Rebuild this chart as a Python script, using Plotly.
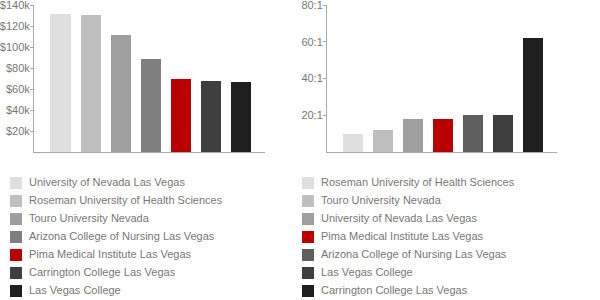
import plotly.graph_objects as go

# Left chart: salary
sal_names = ["University of Nevada Las Vegas", "Roseman University of Health Sciences",
             "Touro University Nevada", "Arizona College of Nursing Las Vegas",
             "Pima Medical Institute Las Vegas", "Carrington College Las Vegas",
             "Las Vegas College"]
sal_values = [131000, 130500, 111500, 88500, 69500, 67800, 66800]
sal_colors = ["#dfdfdf", "#bfbfbf", "#9f9f9f", "#7f7f7f", "#bb0000", "#3f3f3f", "#1f1f1f"]
sal_ticks = [20000, 40000, 60000, 80000, 100000, 120000, 140000]
sal_ticktext = ["$20k", "$40k", "$60k", "$80k", "$100k", "$120k", "$140k"]

# Right chart: student-to-faculty ratio
rat_names = ["Roseman University of Health Sciences", "Touro University Nevada",
             "University of Nevada Las Vegas", "Pima Medical Institute Las Vegas",
             "Arizona College of Nursing Las Vegas", "Las Vegas College",
             "Carrington College Las Vegas"]
rat_values = [10, 12, 18, 18, 20, 20, 62]
rat_colors = ["#dfdfdf", "#bfbfbf", "#9f9f9f", "#bb0000", "#5f5f5f", "#3f3f3f", "#1f1f1f"]
rat_ticks = [20, 40, 60, 80]
rat_ticktext = ["20:1", "40:1", "60:1", "80:1"]

W, H = 600, 300
FONT = "Liberation Sans, Arial, sans-serif"
TXT = "#777777"
AX = "#aaaaaa"

fig = go.Figure()
idx = list(range(7))
fig.add_trace(go.Bar(x=idx, y=sal_values, marker=dict(color=sal_colors, line=dict(width=0)),
                     width=0.667, xaxis="x", yaxis="y", showlegend=False, hoverinfo="skip"))
fig.add_trace(go.Bar(x=idx, y=rat_values, marker=dict(color=rat_colors, line=dict(width=0)),
                     width=0.667, xaxis="x2", yaxis="y2", showlegend=False, hoverinfo="skip"))

# custom legends on a pixel-unit overlay axis
leg_y = [183 + 18 * i for i in idx]
for names, colors, mx in [(sal_names, sal_colors, 16), (rat_names, rat_colors, 308)]:
    fig.add_trace(go.Scatter(x=[mx] * 7, y=leg_y, mode="markers",
                             marker=dict(symbol="square", size=12, color=colors, line=dict(width=0)),
                             xaxis="x3", yaxis="y3", showlegend=False, hoverinfo="skip"))
    fig.add_trace(go.Scatter(x=[mx + 13] * 7, y=leg_y, mode="text", text=names,
                             textposition="middle right",
                             textfont=dict(family=FONT, size=11, color=TXT),
                             xaxis="x3", yaxis="y3", showlegend=False, hoverinfo="skip"))

def xax(d0, d1):
    return dict(domain=[d0 / W, d1 / W], range=[-0.88, 6.8], showgrid=False, zeroline=False,
                showticklabels=False, ticks="", showline=True, linecolor=AX, linewidth=1,
                fixedrange=True, automargin=False)

def yax(anchor, rng, tv, tt):
    return dict(domain=[1 - 152 / H, 1 - 5 / H], range=rng, tickvals=tv, ticktext=tt,
                showgrid=False, zeroline=False, showline=True, linecolor=AX, linewidth=1,
                ticks="outside", ticklen=3, tickcolor=AX, anchor=anchor,
                ticklabeloverflow="allow", automargin=False, ticklabelstandoff=-2,
                tickfont=dict(family=FONT, size=11, color=TXT), fixedrange=True)

fig.update_layout(
    width=W, height=H, margin=dict(l=0, r=0, t=0, b=0, autoexpand=False),
    paper_bgcolor="white", plot_bgcolor="rgba(0,0,0,0)",
    bargap=0,
    xaxis=dict(xax(34, 265), anchor="y"),
    yaxis=yax("x", [0, 140000.5], sal_ticks, sal_ticktext),
    xaxis2=dict(xax(327, 557), anchor="y2"),
    yaxis2=yax("x2", [0, 80.0003], rat_ticks, rat_ticktext),
    xaxis3=dict(domain=[0, 1], range=[0, W], visible=False, fixedrange=True, anchor="y3"),
    yaxis3=dict(domain=[0, 1], range=[H, 0], visible=False, fixedrange=True, anchor="x3"),
    showlegend=False,
)

fig.write_html("out.html")
